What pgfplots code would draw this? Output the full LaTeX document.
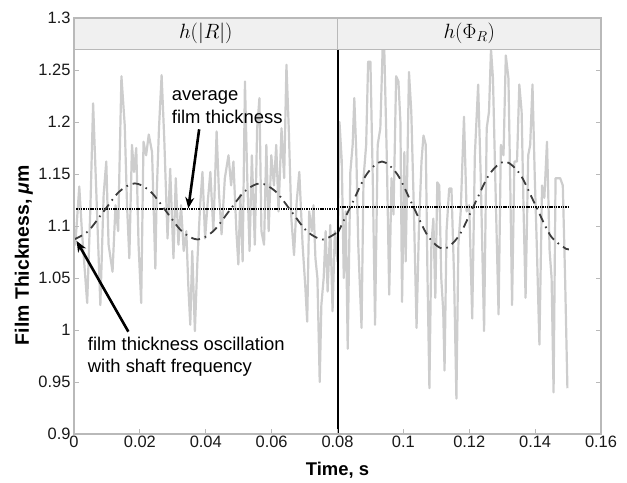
\documentclass[border=0pt]{standalone}
\usepackage{pgfplots}
\pgfplotsset{compat=1.18}
\usepackage{fontspec}
\setmainfont{Liberation Sans}
\usetikzlibrary{calc,arrows.meta}
\definecolor{sig}{RGB}{205,205,205}
\definecolor{frame}{RGB}{185,185,185}
\definecolor{head}{RGB}{240,240,240}
\definecolor{osc}{RGB}{60,60,60}
\pgfplotstableread{
x y
0 1.095
0.0004 1.082
0.0016 1.138
0.0024 1.095
0.0040 1.026
0.0050 1.120
0.0058 1.218
0.0067 1.139
0.0080 1.024
0.0090 1.130
0.0098 1.162
0.0105 1.082
0.0117 1.056
0.0126 1.120
0.0134 1.095
0.0144 1.244
0.0154 1.197
0.0161 1.120
0.0168 1.069
0.0176 1.178
0.0182 1.152
0.0189 1.175
0.0196 1.082
0.0204 1.026
0.0211 1.181
0.0219 1.168
0.0227 1.188
0.0237 1.171
0.0247 1.059
0.0251 1.130
0.0258 1.194
0.0266 1.245
0.0274 1.184
0.0284 1.088
0.0292 1.155
0.0302 1.069
0.0309 1.146
0.0317 1.082
0.0325 1.120
0.0333 1.076
0.0341 1.095
0.0347 1.043
0.0353 1.005
0.0359 1.076
0.0367 0.999
0.0375 1.069
0.0383 1.120
0.0390 1.152
0.0398 1.088
0.0406 1.123
0.0414 1.152
0.0423 1.095
0.0433 1.191
0.0440 1.133
0.0448 1.092
0.0458 1.146
0.0469 1.168
0.0477 1.139
0.0484 1.162
0.0493 1.095
0.0499 1.063
0.0505 1.130
0.0512 1.066
0.0519 1.239
0.0526 1.146
0.0533 1.076
0.0540 1.168
0.0549 1.082
0.0556 1.194
0.0563 1.223
0.0569 1.095
0.0577 1.082
0.0584 1.178
0.0591 1.095
0.0599 1.168
0.0607 1.139
0.0614 1.178
0.0621 1.114
0.0630 1.194
0.0638 1.146
0.0645 1.255
0.0652 1.194
0.0660 1.107
0.0668 1.072
0.0676 1.123
0.0684 1.152
0.0694 1.082
0.0702 1.043
0.0708 1.008
0.0714 1.114
0.0722 1.095
0.0727 1.120
0.0733 1.069
0.0739 1.050
0.0746 0.950
0.0751 1.024
0.0758 1.050
0.0764 1.095
0.0770 1.037
0.0778 1.101
0.0785 1.018
0.0792 1.095
0.0800 1.066
0.0806 1.200
0.0813 1.162
0.0819 1.050
0.0825 1.114
0.0831 0.982
0.0839 1.152
0.0846 1.178
0.0851 1.223
0.0857 1.171
0.0863 1.082
0.0873 1.002
0.0879 1.146
0.0887 1.178
0.0893 1.258
0.0900 1.258
0.0907 1.146
0.0914 1.005
0.0922 1.178
0.0930 1.194
0.0937 1.27
0.0942 1.27
0.0950 1.162
0.0957 1.034
0.0964 1.146
0.0970 1.111
0.0978 1.244
0.0985 1.239
0.0991 1.200
0.0996 1.027
0.1003 1.171
0.1007 1.066
0.1017 1.248
0.1024 1.210
0.1032 1.114
0.1040 1.002
0.1047 1.095
0.1055 1.162
0.1061 1.187
0.1068 1.178
0.1073 1.056
0.1079 0.944
0.1085 1.082
0.1091 1.107
0.1097 1.031
0.1103 1.142
0.1109 1.139
0.1115 1.050
0.1121 1.018
0.1125 0.961
0.1131 1.095
0.1139 1.136
0.1146 1.136
0.1154 1.050
0.1161 0.934
0.1167 1.082
0.1174 1.114
0.1184 1.205
0.1192 1.114
0.1200 1.120
0.1209 1.011
0.1217 1.168
0.1227 1.236
0.1235 1.146
0.1245 0.999
0.1253 1.194
0.1260 1.210
0.1266 1.27
0.1272 1.242
0.1279 1.146
0.1289 1.015
0.1296 1.178
0.1304 1.168
0.1311 1.264
0.1319 1.242
0.1325 1.130
0.1330 1.024
0.1337 1.162
0.1345 1.162
0.1352 1.236
0.1359 1.210
0.1365 1.114
0.1371 1.031
0.1379 1.168
0.1385 1.178
0.1392 1.236
0.1399 1.146
0.1405 1.082
0.1413 0.986
0.1421 1.139
0.1428 1.127
0.1436 1.181
0.1444 1.076
0.1450 1.050
0.1456 0.940
0.1462 1.146
0.1468 1.146
0.1476 1.146
0.1484 1.139
0.1491 1.050
0.1498 0.944
}\signal
\begin{document}
\begin{tikzpicture}
\begin{axis}[
  scale only axis, width=527bp, height=416bp,
  xmin=0, xmax=0.16, ymin=0.9, ymax=1.3,
  xtick={0,0.02,0.04,0.06,0.08,0.1,0.12,0.14,0.16},
  xticklabels={0,0.02,0.04,0.06,0.08,0.1,0.12,0.14,0.16},
  ytick={0.9,0.95,1,1.05,1.1,1.15,1.2,1.25,1.3},
  yticklabels={0.9,0.95,1,1.05,1.1,1.15,1.2,1.25,1.3},
  xtick pos=left,
  tick align=inside,
  major tick length=5bp,
  axis on top,
  axis line style={frame, line width=1.2bp},
  tick style={frame, line width=0.9bp},
  ticklabel style={font=\fontsize{16.5}{18}\selectfont, text=black!90},
  xticklabel style={yshift=1bp},
  xlabel={\textbf{Time, s}},
  ylabel={\textbf{Film Thickness, \textit{μ}m}},
  xlabel style={font=\bfseries\fontsize{18.5}{20}\selectfont, at={(axis description cs:0.5,-0.0865)}, anchor=center},
  ylabel style={font=\bfseries\fontsize{19.5}{22}\selectfont, at={(axis description cs:-0.095,0.43)}, anchor=center},
]
\addplot[sig, line width=2.2bp, line join=round] table[x=x,y=y] {\signal};
\addplot[black, line width=2.4bp, dash pattern=on 1.4bp off 0.9bp] coordinates {(0,1.1165)(0.08,1.1165)};
\addplot[black, line width=2.4bp, dash pattern=on 1.4bp off 0.9bp] coordinates {(0.08,1.1185)(0.15,1.1185)};
\addplot[osc, line width=1.8bp, smooth, dash pattern=on 9bp off 5bp on 1.6bp off 5bp] coordinates {
(0,1.0871)(0.00425,1.0949)(0.009,1.114)(0.01375,1.1331)(0.0185,1.141)(0.02325,1.1331)(0.028,1.114)(0.03275,1.0949)(0.0375,1.087)(0.04225,1.0949)(0.047,1.114)(0.05175,1.1331)(0.0565,1.141)(0.06125,1.1331)(0.066,1.114)(0.07075,1.0949)(0.0755,1.087)(0.08,1.0941)};
\addplot[osc, line width=1.8bp, smooth, dash pattern=on 9bp off 5bp on 1.6bp off 5bp] coordinates {
(0.08,1.0928)(0.08418,1.120)(0.08884,1.1497)(0.0935,1.162)(0.09816,1.1497)(0.10282,1.120)(0.10748,1.0903)(0.11214,1.078)(0.1168,1.0903)(0.12146,1.120)(0.12612,1.1497)(0.13078,1.162)(0.13544,1.1497)(0.1401,1.120)(0.14476,1.0903)(0.1494,1.078)(0.15,1.0785)};
\addplot[black, line width=2bp] coordinates {(0.08,0.9)(0.08,1.27)};
\fill[head] (axis cs:0,1.27) rectangle (axis cs:0.16,1.3);
\draw[frame, line width=1.3bp] (axis cs:0,1.27) -- (axis cs:0.16,1.27);
\draw[frame, line width=1.3bp] (axis cs:0.08,1.27) -- (axis cs:0.08,1.3);
\node[font=\fontsize{20}{22}\selectfont] at (axis cs:0.04,1.2855) {$h(|R|)$};
\node[font=\fontsize{20}{22}\selectfont] at (axis cs:0.12,1.2855) {$h(\Phi_R)$};
\node[anchor=base west, inner sep=0pt, font=\fontsize{18.5}{21}\selectfont] at (axis cs:0.02966,1.2205) {average};
\node[anchor=base west, inner sep=0pt, font=\fontsize{18.5}{21}\selectfont] at (axis cs:0.02966,1.1987) {film thickness};
\node[anchor=base west, inner sep=0pt, font=\fontsize{18.5}{21}\selectfont] at (axis cs:0.00416,0.980) {film thickness oscillation};
\node[anchor=base west, inner sep=0pt, font=\fontsize{18.5}{21}\selectfont] at (axis cs:0.00416,0.9589) {with shaft frequency};
\draw[line width=2.6bp, -{Stealth[length=11bp,width=9bp]}] (axis cs:0.038,1.193) -- (axis cs:0.0347,1.117);
\draw[line width=2.6bp, -{Stealth[length=11bp,width=9bp]}] (axis cs:0.0165,0.9984) -- (axis cs:0.0008,1.0856);
\end{axis}
\path ($(current axis.south west)+(-74bp,-49bp)$) rectangle ($(current axis.north east)+(26bp,18bp)$);
\end{tikzpicture}
\end{document}
